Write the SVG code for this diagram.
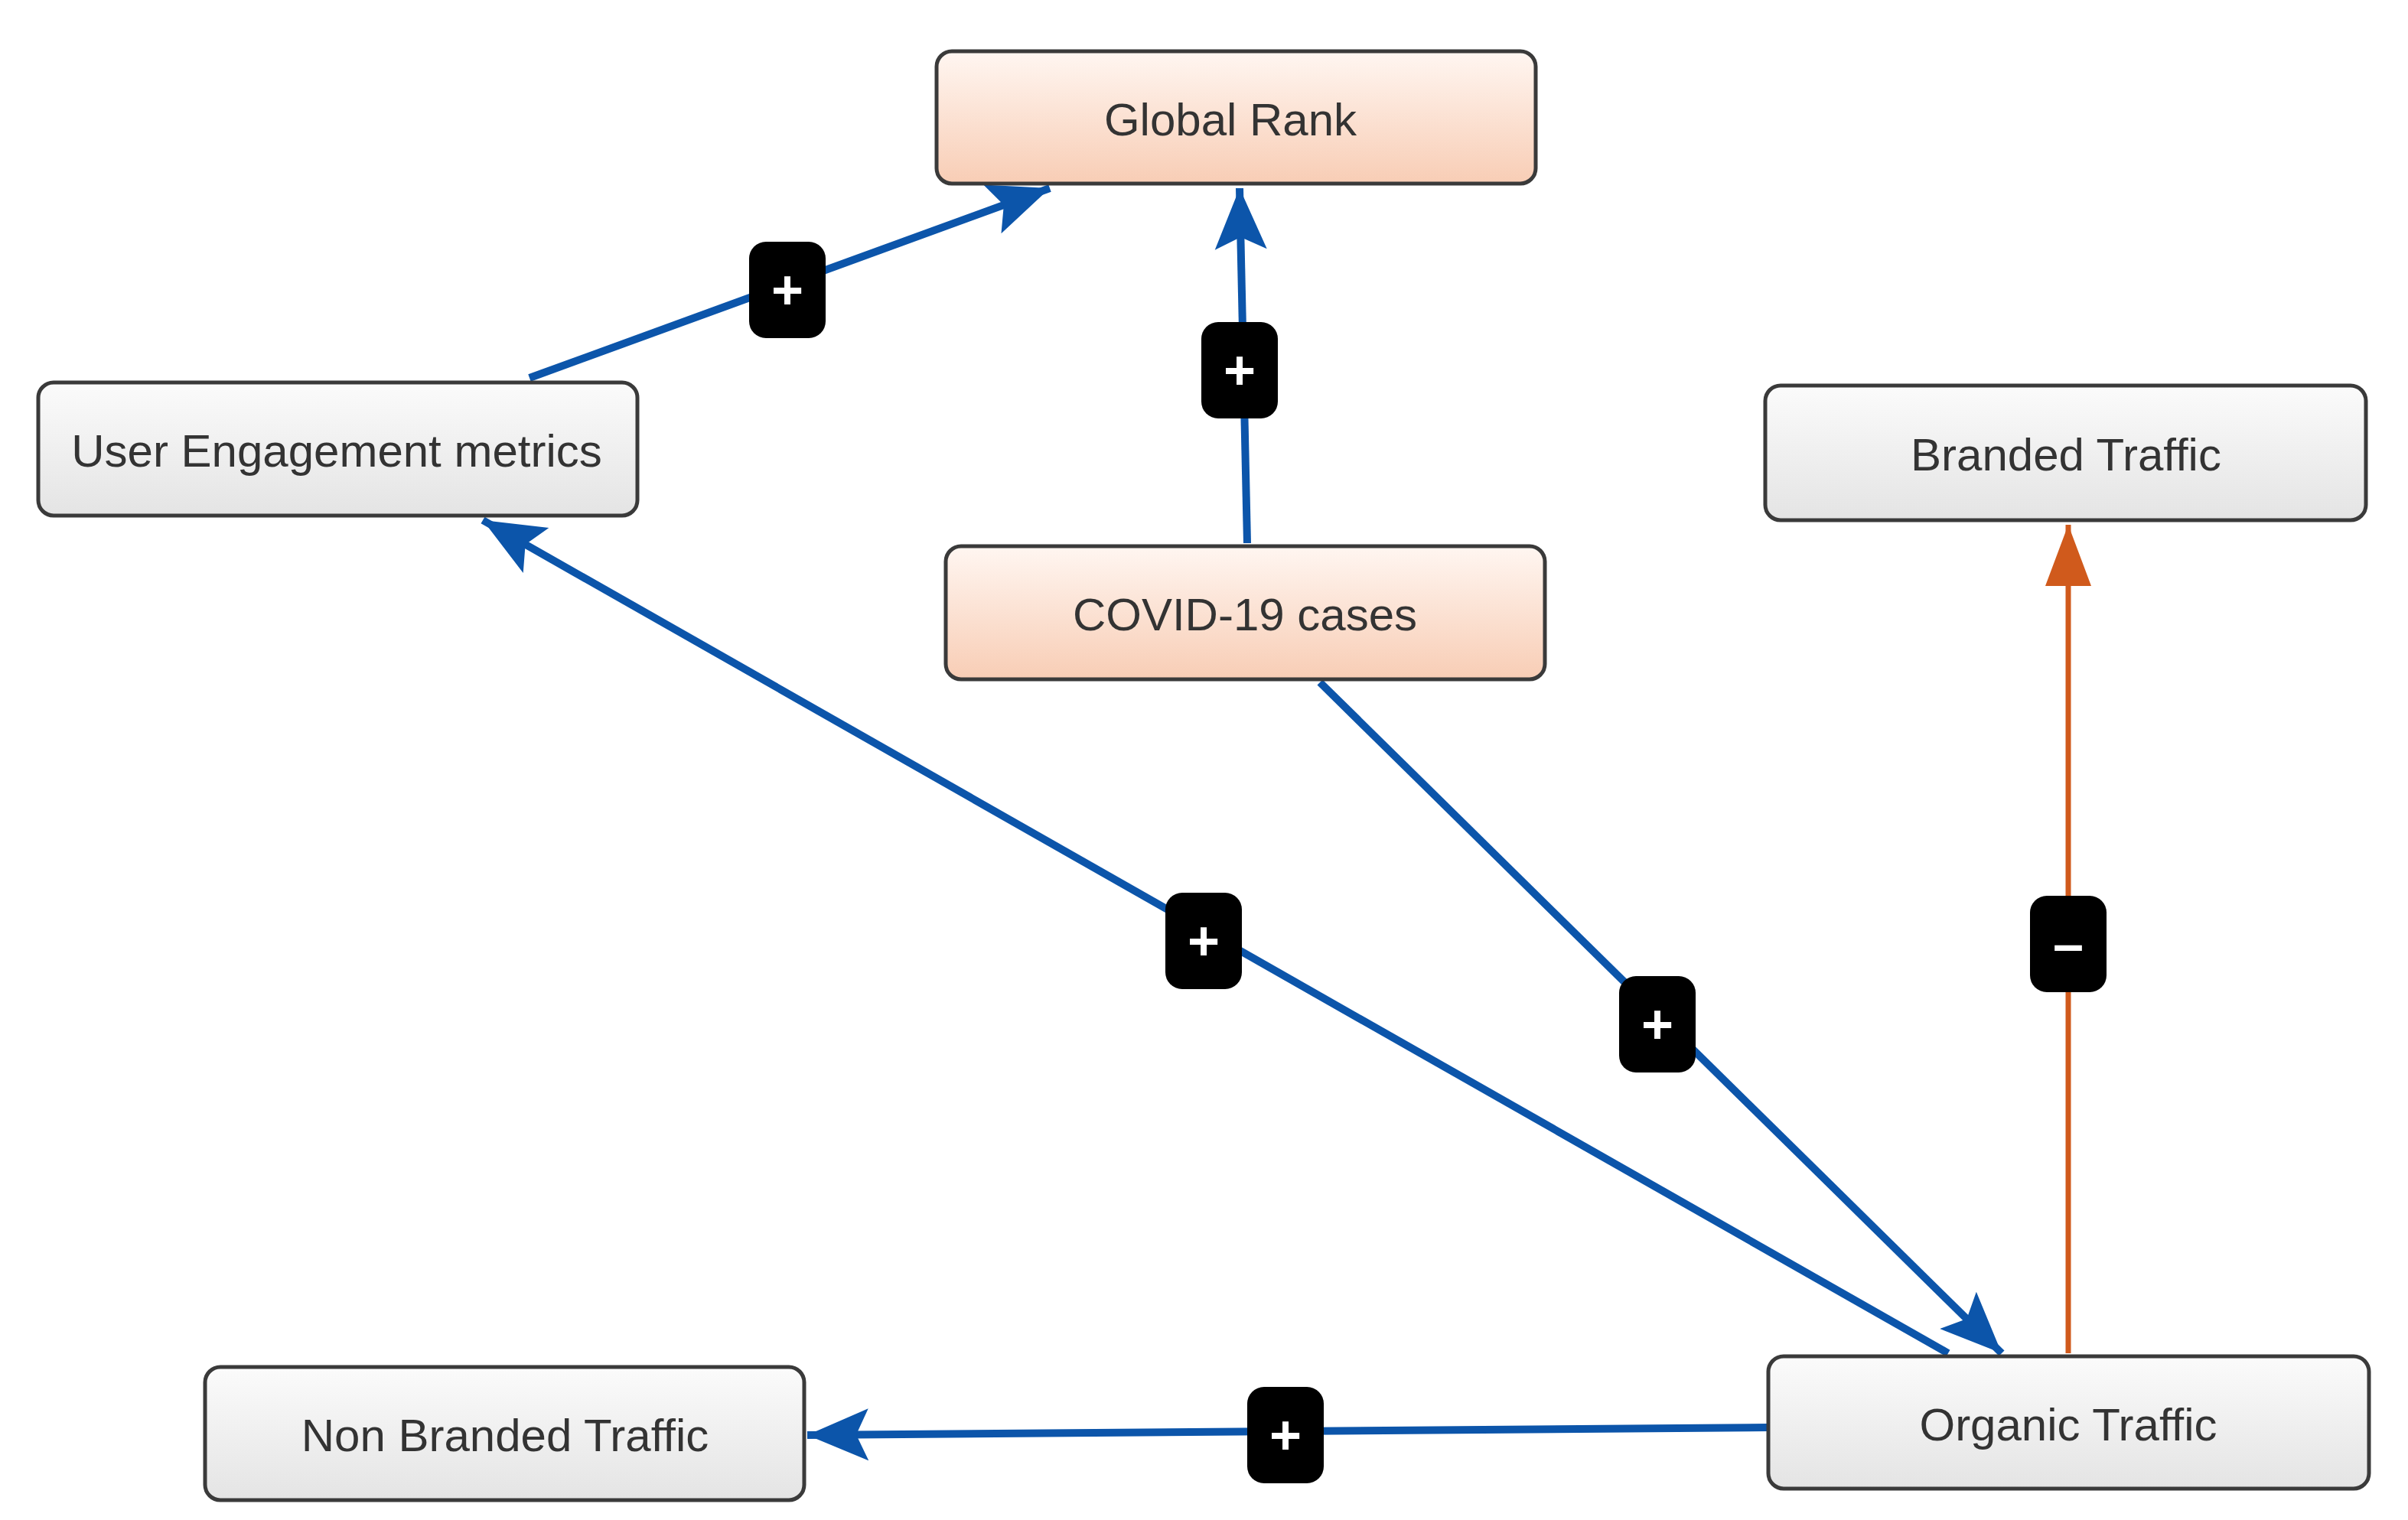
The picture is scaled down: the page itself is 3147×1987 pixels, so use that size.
<svg xmlns="http://www.w3.org/2000/svg" width="3147" height="1987" viewBox="0 0 3147 1987">
<defs>
<linearGradient id="peach" x1="0" y1="0" x2="0" y2="1"><stop offset="0" stop-color="#fff6f1"/><stop offset="1" stop-color="#f8cdb5"/></linearGradient>
<linearGradient id="grey" x1="0" y1="0" x2="0" y2="1"><stop offset="0" stop-color="#fbfbfb"/><stop offset="1" stop-color="#e4e4e4"/></linearGradient>
<marker id="ab" markerUnits="userSpaceOnUse" markerWidth="90" markerHeight="80" refX="80" refY="40" orient="auto"><path d="M0,6 L80,40 L0,74 L16,40 Z" fill="#0c55aa"/></marker>
<marker id="ao" markerUnits="userSpaceOnUse" markerWidth="90" markerHeight="80" refX="80" refY="34" orient="auto"><path d="M0,4 L80,34 L0,64 Z" fill="#d05a1c"/></marker>
</defs>
<style>
.n rect{stroke:#3a3a3a;stroke-width:5}
.n text{font-family:"Liberation Sans",Arial,sans-serif;font-size:60px;fill:#333;text-anchor:middle;dominant-baseline:central}
.e{fill:none;stroke-width:10}
.b{stroke:#0c55aa;marker-end:url(#ab)}
.o{stroke:#d05a1c;stroke-width:7;marker-end:url(#ao)}
.bd rect{fill:#000}
.bd text{font-family:"Liberation Sans",Arial,sans-serif;font-size:72px;font-weight:bold;fill:#fff;text-anchor:middle;dominant-baseline:central}
</style>
<rect width="3147" height="1987" fill="#fff"/>
<g id="connectors">
<line class="e b" x1="692" y1="494" x2="1372" y2="246"/>
<line class="e b" x1="1630" y1="710" x2="1620" y2="246"/>
<line class="e b" x1="2546" y1="1769" x2="631" y2="680"/>
<line class="e b" x1="1725" y1="892" x2="2616" y2="1769"/>
<line class="e o" x1="2703" y1="1769" x2="2703" y2="686"/>
<line class="e b" x1="2311" y1="1866" x2="1055" y2="1876"/>
<g class="bd"><rect x="979" y="316" width="100" height="126" rx="22"/><text x="1029" y="379">+</text></g>
<g class="bd"><rect x="1570" y="421" width="100" height="126" rx="22"/><text x="1620" y="484">+</text></g>
<g class="bd"><rect x="1523" y="1167" width="100" height="126" rx="22"/><text x="1573" y="1230">+</text></g>
<g class="bd"><rect x="2116" y="1276" width="100" height="126" rx="22"/><text x="2166" y="1339">+</text></g>
<g class="bd"><rect x="2653" y="1171" width="100" height="126" rx="22"/><text x="2703" y="1234">–</text></g>
<g class="bd"><rect x="1630" y="1813" width="100" height="126" rx="22"/><text x="1680" y="1876">+</text></g>
</g>
<g id="global-rank" class="n"><rect x="1224" y="67" width="783" height="173" rx="20" fill="url(#peach)"/><text x="1608" y="156">Global Rank</text></g>
<g id="user-engagement" class="n"><rect x="50" y="500" width="783" height="174" rx="20" fill="url(#grey)"/><text x="440" y="589">User Engagement metrics</text></g>
<g id="covid" class="n"><rect x="1236" y="714" width="783" height="174" rx="20" fill="url(#peach)"/><text x="1627" y="803">COVID-19 cases</text></g>
<g id="branded" class="n"><rect x="2307" y="504" width="785" height="176" rx="20" fill="url(#grey)"/><text x="2700" y="594">Branded Traffic</text></g>
<g id="non-branded" class="n"><rect x="268" y="1787" width="783" height="174" rx="20" fill="url(#grey)"/><text x="660" y="1876">Non Branded Traffic</text></g>
<g id="organic" class="n"><rect x="2311" y="1773" width="785" height="173" rx="20" fill="url(#grey)"/><text x="2703" y="1862">Organic Traffic</text></g>
</svg>
